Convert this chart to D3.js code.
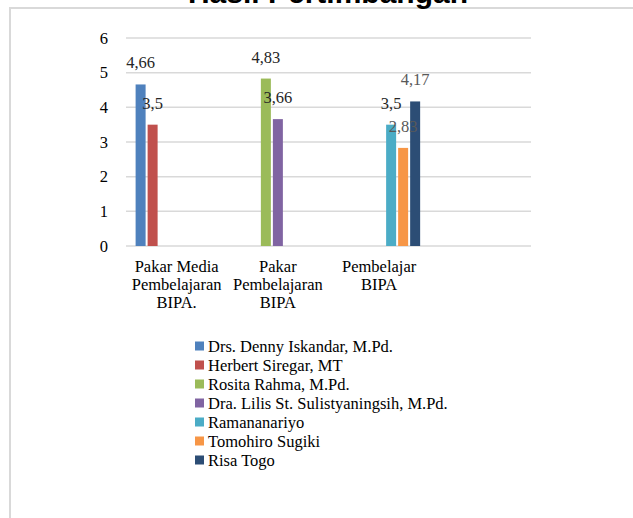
<!DOCTYPE html>
<html>
<head>
<meta charset="utf-8">
<script src="https://cdn.jsdelivr.net/npm/d3@7"></script>
<style>
  body { margin: 0; background: #fff; overflow: hidden; }
  svg { display: block; }
</style>
</head>
<body>
<svg id="chart" width="633" height="518"></svg>
<script>
// chart data
const title = "Hasil Pertimbangan";
const categories = ["Pakar Media Pembelajaran BIPA.", "Pakar Pembelajaran BIPA", "Pembelajar BIPA", ""];
const categoryLines = [["Pakar Media", "Pembelajaran", "BIPA."], ["Pakar", "Pembelajaran", "BIPA"], ["Pembelajar", "BIPA"], []];
const seriesNames = [
    "Drs. Denny Iskandar, M.Pd.",
    "Herbert Siregar, MT",
    "Rosita Rahma, M.Pd.",
    "Dra. Lilis St. Sulistyaningsih, M.Pd.",
    "Ramananariyo",
    "Tomohiro Sugiki",
    "Risa Togo"
];
const seriesColors = ["#4f81bd", "#c0504d", "#9bbb59", "#8064a2", "#4bacc6", "#f79646", "#2c4d75"];
// one value per category for each series (null = no bar)
const seriesValues = [
    [4.66, null, null, null],
    [3.5, null, null, null],
    [null, 4.83, null, null],
    [null, 3.66, null, null],
    [null, null, 3.5, null],
    [null, null, 2.83, null],
    [null, null, 4.17, null]
];
const labelColors = ["#262626", "#262626", "#262626", "#262626", "#262626", "#595959", "#595959"];
const yTicks = [0, 1, 2, 3, 4, 5, 6];

const svg = d3.select("#chart");
const serif = "'Liberation Serif', serif";
const fs = 16.5;

// chart frame: only the left and top edges fall inside the page
svg.append("path")
    .attr("d", "M10,518 V8 H633")
    .attr("fill", "none").attr("stroke", "#d9d9d9").attr("stroke-width", 2);

// title, mostly above the top edge as in the original
svg.append("text")
    .attr("x", 328).attr("y", 3)
    .attr("text-anchor", "middle")
    .attr("font-family", "'Liberation Sans', sans-serif")
    .attr("font-weight", "bold").attr("font-size", 30)
    .attr("fill", "#000")
    .text(title);

const plotL = 126, plotR = 531, plotT = 38, plotB = 246;

const y = d3.scaleLinear().domain([0, 6]).range([plotB, plotT]);
const x0 = d3.scaleBand().domain(categories).range([plotL, plotR]).padding(0);
const x1 = d3.scaleBand().domain(seriesNames).range([0, x0.bandwidth()])
    .paddingInner(0.167).paddingOuter(0.8);

// gridlines
svg.append("g").selectAll("line").data(yTicks).join("line")
    .attr("x1", plotL).attr("x2", plotR)
    .attr("y1", d => y(d)).attr("y2", d => y(d))
    .attr("stroke", "#d9d9d9").attr("stroke-width", 1.5);

// y tick labels
svg.append("g").selectAll("text").data(yTicks).join("text")
    .attr("x", 108).attr("y", d => y(d) + 5.5)
    .attr("text-anchor", "end")
    .attr("font-family", serif).attr("font-size", fs).attr("fill", "#000")
    .text(d => d);

// bars
const bars = [];
seriesValues.forEach((vals, s) => {
    vals.forEach((v, c) => {
        if (v != null) bars.push({ s, c, v });
    });
});
const fmt = v => String(v).replace(".", ",");

svg.append("g").selectAll("rect").data(bars).join("rect")
    .attr("x", d => x0(categories[d.c]) + x1(seriesNames[d.s]))
    .attr("y", d => y(d.v))
    .attr("width", x1.bandwidth())
    .attr("height", d => y(0) - y(d.v))
    .attr("fill", d => seriesColors[d.s]);

// value labels (drawn after bars so they sit on top)
svg.append("g").selectAll("text").data(bars).join("text")
    .attr("x", d => x0(categories[d.c]) + x1(seriesNames[d.s]) + x1.bandwidth() / 2)
    .attr("y", d => y(d.v) - 16)
    .attr("text-anchor", "middle")
    .attr("font-family", serif).attr("font-size", fs)
    .attr("fill", d => labelColors[d.s])
    .text(d => fmt(d.v));

// category labels
const catG = svg.append("g").selectAll("text").data(categories).join("text")
    .attr("text-anchor", "middle")
    .attr("font-family", serif).attr("font-size", fs).attr("fill", "#000");
catG.each(function (d, i) {
    const cx = x0(d) + x0.bandwidth() / 2;
    d3.select(this).selectAll("tspan").data(categoryLines[i]).join("tspan")
        .attr("x", cx).attr("y", (t, j) => 272 + j * 18)
        .text(t => t);
});

// legend
const legend = svg.append("g").selectAll("g").data(seriesNames).join("g")
    .attr("transform", (d, i) => `translate(195, ${346 + i * 19})`);
legend.append("rect")
    .attr("x", 0).attr("y", -4.5).attr("width", 9).attr("height", 9)
    .attr("fill", (d, i) => seriesColors[i]);
legend.append("text")
    .attr("x", 13).attr("y", 5.5)
    .attr("font-family", serif).attr("font-size", fs).attr("fill", "#000")
    .text(d => d);
</script>
</body>
</html>
